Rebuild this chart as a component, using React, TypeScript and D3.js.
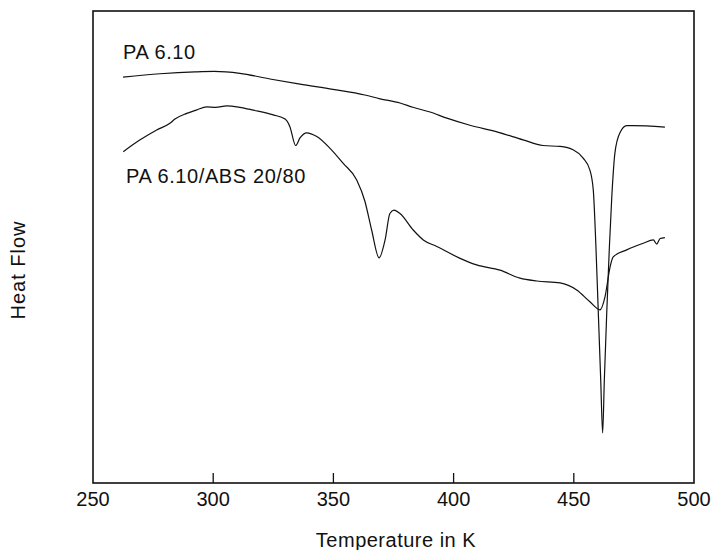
import React from "react";
import * as d3 from "d3";

const xTicks = [250, 300, 350, 400, 450, 500];
const xTitle = "Temperature in K";
const yTitle = "Heat Flow";

// PA 6.10 trace: temperature (K) and heat flow (arbitrary units)
const paT = [262.5, 277.9, 292.4, 300.3, 311.1, 323.6, 336.1, 349.8, 363.1, 369.4, 377.7, 383.1, 390.2, 397.2, 406.8, 418.0, 428.9, 437.2, 444.3, 449.7, 453.8, 456.7, 458.1, 459.2, 460.2, 461.2, 462.0, 462.7, 463.7, 464.8, 465.8, 467.1, 469.2, 472.0, 474.6, 487.9];
const paHF = [86.0, 86.7, 87.1, 87.2, 86.8, 85.6, 84.5, 83.4, 82.2, 81.4, 80.5, 79.6, 78.6, 77.3, 75.8, 74.4, 72.7, 71.5, 71.3, 70.6, 68.9, 66.3, 62.1, 50.1, 36.0, 21.8, 10.6, 21.8, 36.0, 50.0, 60.6, 69.9, 74.2, 75.7, 75.7, 75.4];

// PA 6.10/ABS 20/80 trace
const absT = [262.6, 269.6, 276.5, 282.0, 284.1, 289.0, 293.0, 297.3, 301.0, 305.6, 311.0, 316.7, 325.0, 329.9, 331.9, 334.3, 336.1, 338.9, 343.1, 348.6, 354.1, 359.7, 363.1, 365.9, 369.0, 371.5, 373.5, 375.2, 377.7, 383.2, 387.4, 393.0, 402.7, 409.6, 419.3, 427.6, 434.6, 444.3, 451.2, 456.7, 460.9, 463.0, 465.1, 466.4, 472.0, 478.9, 483.1, 484.5, 485.9, 487.9];
const absHF = [70.2, 72.7, 74.8, 76.2, 77.1, 78.3, 79.0, 79.7, 79.6, 79.9, 79.6, 79.0, 78.0, 77.1, 75.5, 71.5, 73.1, 74.2, 73.4, 70.9, 67.7, 64.2, 59.7, 53.6, 47.7, 51.5, 57.1, 57.8, 57.1, 53.6, 51.5, 50.1, 47.6, 46.2, 45.1, 43.4, 42.8, 42.4, 40.9, 38.4, 36.7, 39.5, 45.8, 47.9, 49.4, 50.8, 51.5, 50.6, 51.8, 52.0];

const labelPA = "PA 6.10";
const labelABS = "PA 6.10/ABS 20/80";

const W = 712;
const H = 550;
const left = 93, right = 694, top = 11, bottom = 483;
const font = "'Liberation Sans', Arial, Helvetica, sans-serif";

export default function App() {
  const x = d3.scaleLinear().domain([250, 500]).range([left, right]);
  const y = d3.scaleLinear().domain([0, 100]).range([bottom, top]);
  const line = d3
    .line<[number, number]>()
    .x((d) => x(d[0]))
    .y((d) => y(d[1]))
    .curve(d3.curveMonotoneX);
  const pa: [number, number][] = paT.map((t, i) => [t, paHF[i]]);
  const abs: [number, number][] = absT.map((t, i) => [t, absHF[i]]);

  return (
    <svg
      width={W}
      height={H}
      style={{ position: "absolute", left: 0, top: 0, display: "block", background: "#fff" }}
      fontFamily={font}
    >
      <rect x={left} y={top} width={right - left} height={bottom - top} fill="none" stroke="#111" strokeWidth={1.6} />
      {xTicks.map((t) => (
        <g key={t}>
          {t > 250 && t < 500 && (
            <line x1={x(t)} x2={x(t)} y1={bottom} y2={bottom - 10} stroke="#111" strokeWidth={1.3} />
          )}
          <text x={x(t)} y={506} textAnchor="middle" fontSize={20} fill="#111">
            {t}
          </text>
        </g>
      ))}
      <text x={396} y={547} textAnchor="middle" fontSize={20} letterSpacing={0.5} fill="#111">
        {xTitle}
      </text>
      <text
        transform={`translate(25,270) rotate(-90)`}
        textAnchor="middle"
        fontSize={20}
        letterSpacing={1}
        fill="#111"
      >
        {yTitle}
      </text>
      <path d={line(pa) || ""} fill="none" stroke="#111" strokeWidth={1.2} />
      <path d={line(abs) || ""} fill="none" stroke="#111" strokeWidth={1.2} />
      <text x={123} y={59} fontSize={20} letterSpacing={0.6} fill="#111">
        {labelPA}
      </text>
      <text x={126} y={183} fontSize={20} letterSpacing={0.6} fill="#111">
        {labelABS}
      </text>
    </svg>
  );
}
